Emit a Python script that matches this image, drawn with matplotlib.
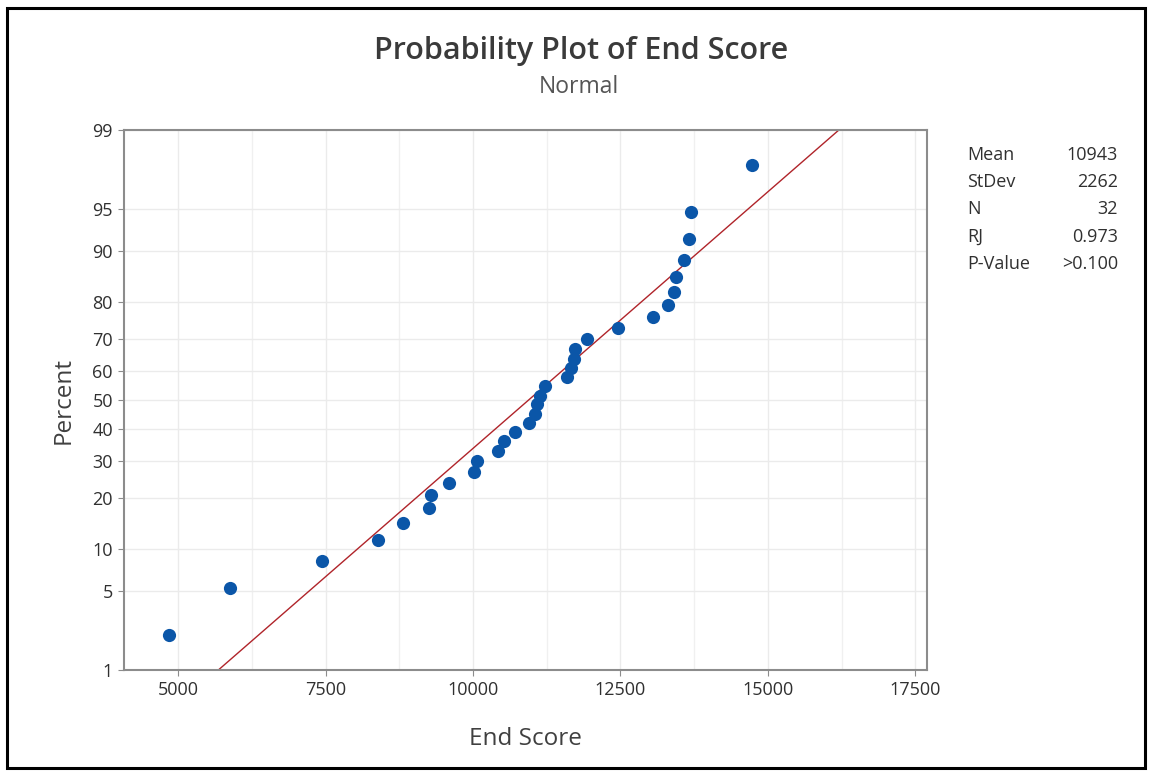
import numpy as np
import matplotlib
matplotlib.use("Agg")
import matplotlib.pyplot as plt
from matplotlib.patches import Rectangle
from statistics import NormalDist

# ---- data ----
end_scores = [4835, 5872, 7444, 8389, 8804, 9247, 9286, 9592, 10022, 10068,
              10425, 10527, 10714, 10941, 11043, 11083, 11140, 11225, 11587, 11667,
              11713, 11723, 11934, 12466, 13056, 13299, 13401, 13435, 13571, 13668,
              13696, 14728]
percents = [2.16, 5.25, 8.33, 11.42, 14.51, 17.59, 20.68, 23.77, 26.85, 29.94,
            33.02, 36.11, 39.20, 42.28, 45.37, 48.46, 51.54, 54.63, 57.72, 60.80,
            63.89, 66.98, 70.06, 73.15, 76.23, 79.32, 82.41, 85.49, 88.58, 91.67,
            94.75, 97.84]
y_ticks = [1, 5, 10, 20, 30, 40, 50, 60, 70, 80, 90, 95, 99]
x_ticks = [5000, 7500, 10000, 12500, 15000, 17500]
fit_percents = [1, 99]
stat_names = ["Mean", "StDev", "N", "RJ", "P-Value"]
stat_values = ["10943", "2262", "32", "0.973", ">0.100"]
mean, stdev = 10943, 2262

plt.rcParams['font.family'] = ['Open Sans', 'DejaVu Sans']

_nd = NormalDist()
_ppf = np.vectorize(lambda p: _nd.inv_cdf(min(max(p / 100.0, 1e-9), 1 - 1e-9)), otypes=[float])
_cdf = np.vectorize(lambda z: _nd.cdf(z) * 100.0, otypes=[float])

def fwd(p):
    return _ppf(np.asarray(p, dtype=float))

def inv(z):
    return _cdf(np.asarray(z, dtype=float))

fig = plt.figure(figsize=(11.52, 7.74), dpi=100)
fig.patches.append(Rectangle((7/1152, 6/774), 1138/1152, 760/774, transform=fig.transFigure,
                             fill=False, edgecolor='black', linewidth=2.2))

ax = fig.add_axes([124/1152, 104/774, 803/1152, 540/774])
ax.set_yscale('function', functions=(fwd, inv))

# grid / ticks
ax.set_xticks(x_ticks)
ax.set_xticks(np.arange(6250, 18000, 2500), minor=True)
ax.set_yticks(y_ticks)
ax.set_yticklabels([str(t) for t in y_ticks])
ax.yaxis.set_minor_locator(matplotlib.ticker.NullLocator())
ax.set_ylim(1, 99)
ax.set_xlim(4080, 17700)
ax.grid(True, which='major', color='#ebebeb', linewidth=1.0)
ax.grid(True, which='minor', axis='x', color='#f0f0f0', linewidth=1.0)
ax.set_axisbelow(True)

# fitted line
fit_x = [mean + stdev * _nd.inv_cdf(p / 100) for p in fit_percents]
ax.plot(fit_x, fit_percents, color='#b0242a', linewidth=1.0, zorder=2)

# points
ax.plot(end_scores, percents, 'o', color='#0b56a8', markersize=9.5,
        markeredgewidth=0, zorder=3)

for s in ax.spines.values():
    s.set_color('#8c8c8c')
    s.set_linewidth(1.5)
ax.tick_params(axis='both', which='major', direction='out', length=4, color='#8c8c8c',
               labelsize=13, labelcolor='#303030', pad=4)
ax.tick_params(axis='x', which='minor', length=0)

ax.set_xlabel('End Score', fontsize=17.5, color='#404040', labelpad=20)
ax.set_ylabel('Percent', fontsize=17.5, color='#404040', labelpad=12)

fig.text(581/1152, 1 - 51/774, 'Probability Plot of End Score', ha='center', va='center',
         fontsize=22, fontweight='semibold', color='#3a3a3a')
fig.text(579/1152, 1 - 87/774, 'Normal', ha='center', va='center',
         fontsize=16.5, color='#555555')

for i, (n, v) in enumerate(zip(stat_names, stat_values)):
    y = 1 - (155 + i * 27.2) / 774
    fig.text(967/1152, y, n, ha='left', va='center', fontsize=13, color='#303030')
    fig.text(1118/1152, y, v, ha='right', va='center', fontsize=13, color='#303030')

fig.savefig('out.png', dpi=100)
